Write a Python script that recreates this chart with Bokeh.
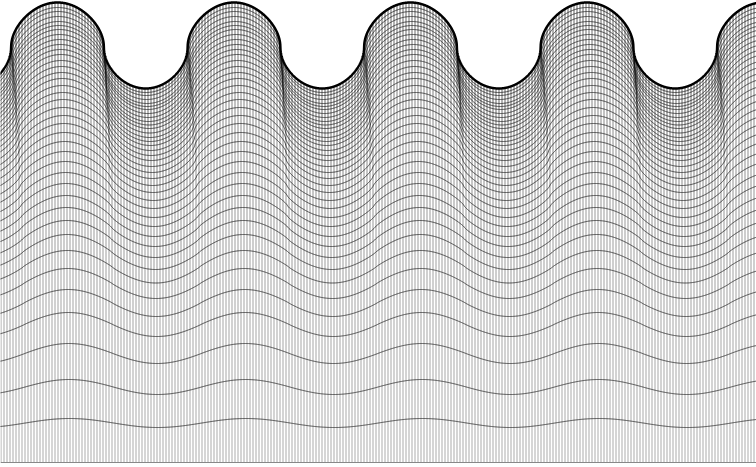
import numpy as np
from bokeh.plotting import figure
from bokeh.models import Range1d, GlobalInlineStyleSheet, ColumnDataSource
from bokeh.embed import file_html
from bokeh.resources import INLINE

# ---- data (screen pixel units) ----
period = 176.5          # horizontal wavelength of the waves
first_crest = 57.0      # x of first crest of the top row
base_y = 462.0          # flat bottom line
column_step = 3.0       # spacing of the vertical mesh lines
bias_top = 0.08         # crest widening of the top row
column_alpha_top = 0.62 # darkness of the vertical mesh near the top
column_alpha_bottom = 0.33

# rows listed top -> bottom
row_crest = [2, 7, 11, 16, 21, 25, 29, 34, 39, 44, 49, 54, 60, 66, 72, 78, 85, 92, 99,
             107, 115, 123, 132, 141, 151, 161, 172, 183, 195, 207, 220, 234, 250, 268,
             289, 312, 343, 379, 418]
row_trough = [88, 92, 95, 99, 103, 106, 109, 113, 117, 121, 124.5, 128, 132.5, 137, 141,
              145, 150, 155, 160, 166, 172, 178, 185, 192, 200, 208, 217, 226, 236, 246,
              257, 269, 282.5, 298, 316, 336, 363, 394, 427]
row_power = [0.50, 0.51, 0.52, 0.53, 0.54, 0.55, 0.56, 0.57, 0.58, 0.59, 0.60, 0.61, 0.62,
             0.63, 0.64, 0.65, 0.66, 0.67, 0.68, 0.69, 0.71, 0.73, 0.74, 0.76, 0.77, 0.79,
             0.81, 0.82, 0.84, 0.85, 0.87, 0.89, 0.90, 0.92, 0.93, 0.95, 0.97, 0.98, 1.00]
row_shift = [0, 0.3, 0.6, 0.9, 1.3, 1.6, 1.9, 2.2, 2.5, 2.8, 3.2, 3.5, 3.8, 4.1, 4.4, 4.7,
             5.1, 5.4, 5.7, 6.0, 6.3, 6.6, 6.9, 7.3, 7.6, 7.9, 8.2, 8.5, 8.8, 9.2, 9.5,
             9.8, 10.1, 10.4, 10.7, 11.1, 11.4, 11.7, 12.0]

W, H = 756, 467


def row_curve(x, crest, trough, pw, shift):
    b = bias_top * (1 - pw) / 0.5
    theta = 2 * np.pi * (x - (first_crest + shift)) / period
    v = np.cos(theta) + b
    f = np.sign(v) * np.abs(v) ** pw
    fmax = (1 + b) ** pw
    fmin = -((1 - b) ** pw)
    g = (fmax - f) / (fmax - fmin)
    return crest + (trough - crest) * g


xs = np.linspace(-2, W + 2, 3041)
curve_xs, curve_ys = [], []
for c, t, pw, sh in zip(row_crest, row_trough, row_power, row_shift):
    curve_xs.append(xs)
    curve_ys.append(row_curve(xs, c, t, pw, sh))

# vertical mesh: pieces between consecutive rows, darker towards the top
col_x = np.arange(0.5, W, column_step)
levels = [row_curve(col_x, c, t, pw, sh)
          for c, t, pw, sh in zip(row_crest, row_trough, row_power, row_shift)]
levels.append(np.full_like(col_x, base_y))
n_int = len(levels) - 1
sx0, sy0, sy1, sal = [], [], [], []
for i in range(n_int):
    a = column_alpha_top + (column_alpha_bottom - column_alpha_top) * i / (n_int - 1)
    sx0.append(col_x)
    sy0.append(levels[i])
    sy1.append(levels[i + 1])
    sal.append(np.full_like(col_x, a))
seg = ColumnDataSource(dict(x=np.concatenate(sx0), y0=np.concatenate(sy0),
                            y1=np.concatenate(sy1), a=np.concatenate(sal)))

p = figure(width=W, height=H, x_range=Range1d(0, W), y_range=Range1d(H, 0),
           output_backend="svg", toolbar_location=None, min_border=0,
           background_fill_color="white", border_fill_color="white")
p.axis.visible = False
p.grid.visible = False
p.outline_line_color = None
p.stylesheets = [GlobalInlineStyleSheet(css="html,body{margin:0 !important;padding:0;overflow:hidden;}")]

p.segment(x0="x", y0="y0", x1="x", y1="y1", line_alpha="a", source=seg,
          line_color="black", line_width=1)
p.segment(x0=[0], y0=[base_y], x1=[W], y1=[base_y], line_color="#888888", line_width=1)
p.multi_line(curve_xs, curve_ys, line_color="#111111", line_alpha=0.75, line_width=1)
p.line(xs, curve_ys[0], line_color="black", line_width=2.5)

open("out.html", "w").write(file_html(p, INLINE))
